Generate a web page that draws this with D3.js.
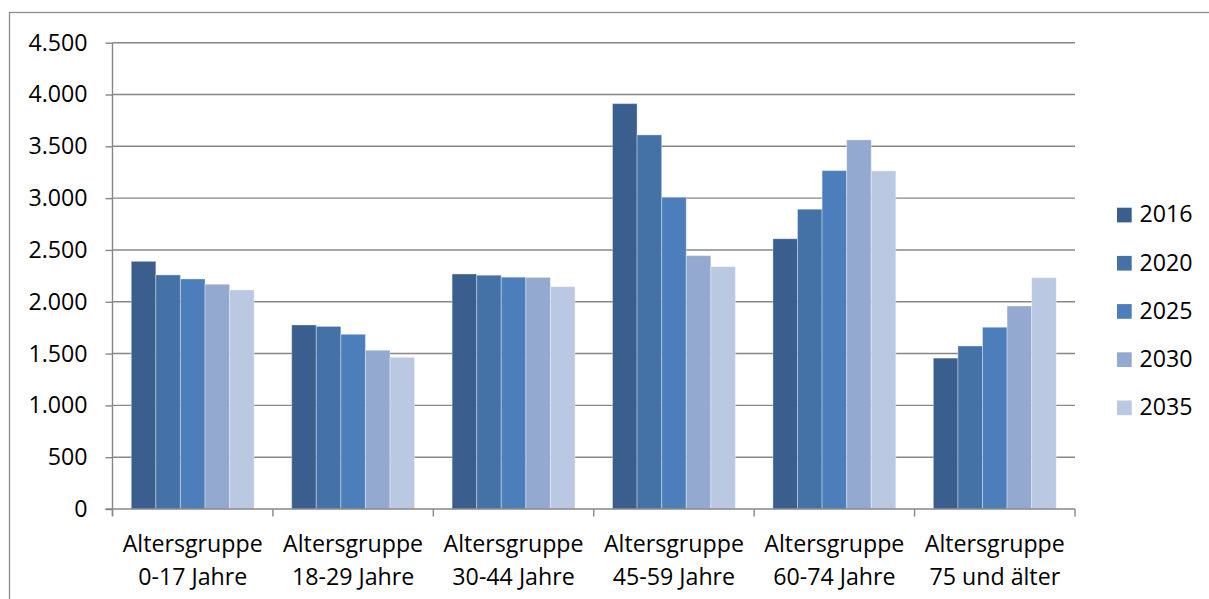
<!DOCTYPE html>
<html>
<head>
<meta charset="utf-8">
<script src="https://cdn.jsdelivr.net/npm/d3@7/dist/d3.min.js"></script>
<style>
  html, body { margin: 0; padding: 0; background: #fff; }
  svg { display: block; }
  text { font-family: "Open Sans", "Noto Sans", sans-serif; fill: #000; }
</style>
</head>
<body>
<svg id="chart" width="1209" height="599"></svg>
<script>
// Bevölkerung nach Altersgruppen, 2016 und Prognose bis 2035
const categories = [
  ["Altersgruppe", "0-17 Jahre"],
  ["Altersgruppe", "18-29 Jahre"],
  ["Altersgruppe", "30-44 Jahre"],
  ["Altersgruppe", "45-59 Jahre"],
  ["Altersgruppe", "60-74 Jahre"],
  ["Altersgruppe", "75 und älter"]
];
const years = ["2016", "2020", "2025", "2030", "2035"];
const v2016 = [2390, 1776, 2268, 3912, 2608, 1456];
const v2020 = [2259, 1762, 2256, 3610, 2893, 1573];
const v2025 = [2220, 1686, 2237, 3008, 3266, 1754];
const v2030 = [2169, 1532, 2235, 2445, 3562, 1959];
const v2035 = [2114, 1464, 2146, 2339, 3263, 2233];
const yTicks = [0, 500, 1000, 1500, 2000, 2500, 3000, 3500, 4000, 4500];

const seriesValues = [v2016, v2020, v2025, v2030, v2035];
const colors = ["#3a5f8e", "#4471a6", "#4c7ebb", "#94a9d0", "#bbc8e1"];

const svg = d3.select("#chart");
const W = 1209, H = 599;
const plot = { left: 112.5, right: 1075, top: 42.7, bottom: 509 };
const fontSize = "23.2px";

// outer frame
svg.append("rect")
  .attr("x", 9.5).attr("y", 12.5)
  .attr("width", W + 10).attr("height", H + 10)
  .attr("fill", "none").attr("stroke", "#8c8c8c").attr("stroke-width", 1.3);

const de = d3.formatLocale({ decimal: ",", thousands: ".", grouping: [3], currency: ["", " €"] });
const fmt = de.format(",d");

const catKeys = categories.map((c, i) => i);
const x0 = d3.scaleBand().domain(catKeys)
  .range([plot.left, plot.right])
  .paddingInner(0.234).paddingOuter(0.117);
const x1 = d3.scaleBand().domain(years).range([0, x0.bandwidth()]);
const y = d3.scaleLinear().domain([0, 4500]).range([plot.bottom, plot.top]);

const gridColor = "#878787";

// horizontal gridlines
svg.append("g").selectAll("line").data(yTicks.filter(t => t > 0)).join("line")
  .attr("x1", plot.left).attr("x2", plot.right)
  .attr("y1", d => y(d)).attr("y2", d => y(d))
  .attr("stroke", gridColor).attr("stroke-width", 1.4);

// bars
const rows = [];
catKeys.forEach(ci => years.forEach((yr, si) => rows.push({ ci, yr, si, v: seriesValues[si][ci] })));
svg.append("g").selectAll("rect").data(rows).join("rect")
  .attr("x", d => x0(d.ci) + x1(d.yr))
  .attr("y", d => y(d.v))
  .attr("width", x1.bandwidth())
  .attr("height", d => y(0) - y(d.v))
  .attr("fill", d => colors[d.si])
  .attr("stroke", "rgba(255,255,255,0.35)")
  .attr("stroke-width", 1);

// y axis
const yAxis = d3.axisLeft(y).tickValues(yTicks).tickFormat(fmt).tickSize(7).tickPadding(18);
const gy = svg.append("g").attr("transform", `translate(${plot.left},0)`).call(yAxis);
gy.select(".domain").attr("stroke", gridColor).attr("stroke-width", 1.4)
  .attr("d", `M0,${plot.top}V${plot.bottom + 7}`);
gy.selectAll(".tick line").attr("stroke", gridColor).attr("stroke-width", 1.4);
gy.selectAll(".tick text").style("font-family", '"Open Sans", sans-serif')
  .style("font-size", fontSize).attr("fill", "#000");

// x axis line and category boundary ticks
const step = x0.step();
const boundaries = d3.range(categories.length + 1).map(i => plot.left + i * step);
const gx = svg.append("g");
gx.append("line")
  .attr("x1", plot.left - 7).attr("x2", plot.right)
  .attr("y1", plot.bottom).attr("y2", plot.bottom)
  .attr("stroke", gridColor).attr("stroke-width", 1.4);
gx.selectAll("line.tick").data(boundaries).join("line").attr("class", "tick")
  .attr("x1", d => d).attr("x2", d => d)
  .attr("y1", plot.bottom).attr("y2", plot.bottom + 7.5)
  .attr("stroke", gridColor).attr("stroke-width", 1.4);

// category labels
const lbl = svg.append("g").selectAll("text").data(catKeys).join("text")
  .attr("text-anchor", "middle")
  .style("font-size", fontSize);
lbl.append("tspan").attr("x", d => x0(d) + x0.bandwidth() / 2).attr("y", 551.5)
  .text(d => categories[d][0]);
lbl.append("tspan").attr("x", d => x0(d) + x0.bandwidth() / 2).attr("y", 585)
  .text(d => categories[d][1]);

// legend
const leg = svg.append("g").selectAll("g").data(years).join("g")
  .attr("transform", (d, i) => `translate(1117,${207.7 + i * 48.2})`);
leg.append("rect").attr("width", 14.7).attr("height", 14.7)
  .attr("fill", (d, i) => colors[i]);
leg.append("text").attr("x", 22.5).attr("y", 14.6)
  .style("font-size", fontSize).text(d => d);
</script>
</body>
</html>
